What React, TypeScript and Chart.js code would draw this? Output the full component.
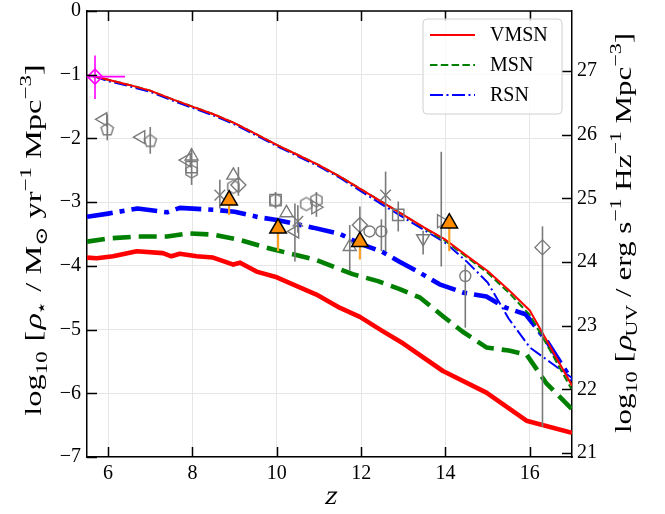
import React, { useEffect, useRef } from 'react';
import { Chart, registerables } from 'chart.js';
Chart.register(...registerables);

// ---------- data ----------
// upper (thin) model curves
const zTop = [5.65, 6, 6.5, 7, 7.5, 8, 8.5, 9, 9.5, 10, 10.5, 11, 11.5, 12, 12.5, 13, 13.5, 14, 14.5, 15, 15.5, 16, 16.5, 17];
const vmsnTop = [-1.02, -1.08, -1.16, -1.25, -1.38, -1.5, -1.62, -1.76, -1.93, -2.1, -2.26, -2.42, -2.6, -2.8, -3.0, -3.2, -3.4, -3.59, -3.84, -4.08, -4.38, -4.7, -5.29, -5.88];
const msnTop = [-1.02, -1.08, -1.16, -1.25, -1.38, -1.5, -1.62, -1.76, -1.93, -2.1, -2.26, -2.42, -2.6, -2.8, -3.0, -3.2, -3.41, -3.61, -3.86, -4.11, -4.42, -4.77, -5.35, -5.95];
const rsnTop = [-1.02, -1.1, -1.18, -1.27, -1.4, -1.52, -1.64, -1.78, -1.95, -2.12, -2.28, -2.44, -2.62, -2.83, -3.04, -3.24, -3.44, -3.64, -3.93, -4.26, -4.83, -5.28, -5.52, -5.76];
// lower (thick) model curves
const vmsnZ = [5.5, 5.73, 6.12, 6.68, 7.3, 7.5, 7.7, 8.1, 8.49, 8.97, 9.13, 9.52, 10.0, 10.38, 10.94, 11.5, 11.97, 12.5, 13, 13.94, 14.97, 15.92, 17];
const vmsnBot = [-3.87, -3.88, -3.85, -3.77, -3.8, -3.85, -3.81, -3.85, -3.87, -3.98, -3.95, -4.09, -4.18, -4.29, -4.45, -4.66, -4.8, -5.02, -5.22, -5.65, -5.99, -6.43, -6.62];
const msnZ = [5.5, 6, 6.7, 7.4, 7.9, 8.5, 9.1, 9.9, 10.9, 11.8, 12.4, 12.9, 13.4, 13.94, 14.4, 14.97, 15.5, 15.92, 16.4, 17];
const msnBot = [-3.62, -3.57, -3.54, -3.54, -3.49, -3.51, -3.59, -3.74, -3.9, -4.13, -4.24, -4.36, -4.5, -4.79, -5.03, -5.28, -5.33, -5.39, -5.85, -6.25];
const rsnZ = [5.5, 6, 6.7, 7.4, 7.7, 8.5, 9.0, 9.6, 10.0, 10.86, 11.5, 12.0, 12.5, 12.9, 13.4, 13.86, 14.42, 14.97, 15.4, 15.9, 16.4, 17];
const rsnBot = [-3.23, -3.18, -3.1, -3.16, -3.09, -3.12, -3.15, -3.24, -3.28, -3.4, -3.5, -3.66, -3.78, -3.93, -4.11, -4.29, -4.42, -4.48, -4.65, -4.76, -5.18, -5.8];

// observational points (gray)
const obsZ = [5.88, 5.98, 6.78, 7.0, 7.86, 7.98, 7.98, 7.98, 8.65, 8.97, 8.97, 9.09, 9.97, 9.97, 10.23, 10.43, 10.5, 10.7, 10.94, 10.92, 11.73, 11.97, 12.2, 12.48, 12.58, 12.88, 13.47, 13.9, 14.47, 16.3];
const obsY = [-1.7, -1.86, -1.98, -2.04, -2.34, -2.28, -2.45, -2.52, -2.89, -2.58, -2.76, -2.73, -2.97, -2.97, -3.17, -3.46, -3.3, -3.03, -2.97, -3.08, -3.7, -3.36, -3.46, -3.46, -2.89, -3.2, -3.57, -3.3, -4.16, -3.71];
const obsShape = ['triL', 'pent', 'triL', 'pent', 'triL', 'tri', 'sq', 'hex', 'x', 'tri', 'hex', 'dia', 'sq', 'hex', 'tri', 'triL', 'x', 'hex', 'hex', 'triR', 'tri', 'dia', 'circ', 'circ', 'x', 'sq', 'triD', 'triR', 'circ', 'dia'];
const obsLo = [null, -2.03, null, -2.24, null, -2.73, null, null, -3.1, null, null, -2.9, -3.1, null, null, -3.93, -3.48, null, -3.23, null, -4.08, -3.57, null, -3.77, -3.77, -3.46, -3.82, -4.01, -4.97, -6.53];
const obsHi = [null, -1.62, null, -1.82, null, -2.16, null, null, -2.65, null, null, -2.45, -2.84, null, null, -3.02, -3.05, null, -2.84, null, -3.36, -3.07, null, -3.27, -2.52, -2.99, -3.45, -2.21, -3.98, -3.38];

// lower limits (orange)
const limZ = [8.87, 10.03, 11.97, 14.09];
const limY = [-2.97, -3.41, -3.62, -3.33];
const limLo = [-3.2, -3.77, -3.9, -3.77];

// magenta point
const magZ = [5.69];
const magY = [-1.03];
const magXLo = [5.45];
const magXHi = [6.4];
const magYLo = [-1.38];
const magYHi = [-0.7];

const xTicks = [6, 8, 10, 12, 14, 16];
const yTicks = [-7, -6, -5, -4, -3, -2, -1, 0];
const y2Ticks = [21, 22, 23, 24, 25, 26, 27];
const UV_OFFSET = 27.94;
const legendLabels = ['VMSN', 'MSN', 'RSN'];

// ---------- styles ----------
const GRAY = '#7a7a7a';
const RED = '#ff0000';
const GREEN = '#008000';
const BLUE = '#0000ff';
const FONT = '"Liberation Serif", "DejaVu Serif", serif';

const thinDash: Record<string, number[]> = { VMSN: [], MSN: [7.5, 3.3], RSN: [13, 3.5, 2, 3.5] };
const thickDash: Record<string, number[]> = { VMSN: [], MSN: [18, 8], RSN: [26, 7, 5, 7] };
const colorOf: Record<string, string> = { VMSN: RED, MSN: GREEN, RSN: BLUE };

type Seg = [string, string];

function drawRich(ctx: CanvasRenderingContext2D, segs: Seg[], cx: number, cy: number, size: number, targetLen: number) {
  const fontFor = (k: string) => {
    const small = k.startsWith('sub') || k.startsWith('sup');
    return `${small ? Math.round(size * 0.7) : size}px ${FONT}`;
  };
  const widths: number[] = [];
  let total = 0;
  for (const [t, k] of segs) {
    let w: number;
    if (k === 'gap') w = parseFloat(t) * size;
    else {
      ctx.font = fontFor(k);
      w = ctx.measureText(t).width;
    }
    widths.push(w);
    total += w;
  }
  ctx.save();
  ctx.translate(cx, cy);
  ctx.rotate(-Math.PI / 2);
  const sc = targetLen ? Math.min(1.35, targetLen / total) : 1;
  ctx.scale(sc, 1);
  ctx.fillStyle = '#000';
  ctx.textBaseline = 'alphabetic';
  ctx.textAlign = 'left';
  let x = -total / 2;
  segs.forEach(([t, k], i) => {
    if (k !== 'gap') {
      ctx.font = fontFor(k);
      const dy = k.startsWith('sub') ? size * 0.25 : k.startsWith('sup') ? -size * 0.4 : 0;
      if (k === 'i') {
        ctx.save();
        ctx.translate(x, dy);
        ctx.transform(1, 0, -0.22, 1, 0, 0);
        ctx.fillText(t, 0, 0);
        ctx.restore();
      } else {
        ctx.fillText(t, x, dy);
      }
    }
    x += widths[i];
  });
  ctx.restore();
}

function polyCanvas(n: number, r: number, color: string, lw: number) {
  const c = document.createElement('canvas');
  const s = Math.ceil(2 * r + 4);
  c.width = s;
  c.height = s;
  const g = c.getContext('2d')!;
  g.strokeStyle = color;
  g.lineWidth = lw;
  g.beginPath();
  for (let i = 0; i < n; i++) {
    const a = -Math.PI / 2 + (i * 2 * Math.PI) / n;
    const x = s / 2 + r * Math.cos(a);
    const y = s / 2 + r * Math.sin(a);
    if (i === 0) g.moveTo(x, y);
    else g.lineTo(x, y);
  }
  g.closePath();
  g.stroke();
  return c;
}

export default function App() {
  const ref = useRef<HTMLCanvasElement>(null);

  useEffect(() => {
    const canvas = ref.current!;
    const pent = polyCanvas(5, 6.5, GRAY, 1.4);
    const hex = polyCanvas(6, 6.5, GRAY, 1.4);
    const styleOf = (s: string): any => {
      switch (s) {
        case 'tri': return 'triangle';
        case 'triL': return 'triangle';
        case 'triR': return 'triangle';
        case 'triD': return 'triangle';
        case 'sq': return 'rect';
        case 'dia': return 'rectRot';
        case 'circ': return 'circle';
        case 'x': return 'crossRot';
        case 'pent': return pent;
        case 'hex': return hex;
      }
      return 'circle';
    };
    const rotOf = (s: string) => (s === 'triL' ? -90 : s === 'triR' ? 90 : s === 'triD' ? 180 : 0);
    const radOf = (s: string) => (s === 'circ' ? 5.5 : s === 'sq' ? 8 : 7.5);

    const mk = (zs: number[], ys: number[]) => zs.map((z, i) => ({ x: z, y: ys[i] }));

    const lineDs = (label: string, zs: number[], ys: number[], thick: boolean) => ({
      label,
      data: mk(zs, ys),
      showLine: true,
      borderColor: colorOf[label],
      backgroundColor: colorOf[label],
      borderWidth: thick ? 4.6 : 2,
      borderDash: thick ? thickDash[label] : thinDash[label],
      borderCapStyle: 'butt',
      borderJoinStyle: 'round',
      pointRadius: 0,
      pointHoverRadius: 0,
      tension: 0,
      clip: 0,
    });

    const datasets: any[] = [
      {
        label: 'lim',
        data: mk(limZ, limY),
        pointStyle: 'triangle',
        pointRadius: 9.5,
        pointBackgroundColor: '#ff8c00',
        pointBorderColor: '#000',
        pointBorderWidth: 1.5,
        clip: false,
      },
      {
        label: 'mag',
        data: mk(magZ, magY),
        pointStyle: 'rectRot',
        pointRadius: 7.5,
        pointBackgroundColor: 'rgba(0,0,0,0)',
        pointBorderColor: '#ff00ff',
        pointBorderWidth: 1.5,
        clip: false,
      },
      {
        label: 'obs',
        data: mk(obsZ, obsY),
        pointStyle: obsShape.map(styleOf),
        pointRotation: obsShape.map(rotOf),
        pointRadius: obsShape.map(radOf),
        pointBackgroundColor: 'rgba(0,0,0,0)',
        pointBorderColor: GRAY,
        pointBorderWidth: 1.4,
        clip: false,
      },
      lineDs('VMSN', zTop, vmsnTop, false),
      lineDs('MSN', zTop, msnTop, false),
      lineDs('RSN', zTop, rsnTop, false),
      lineDs('VMSN', vmsnZ, vmsnBot, true),
      lineDs('MSN', msnZ, msnBot, true),
      lineDs('RSN', rsnZ, rsnBot, true),
    ];

    const overlay = {
      id: 'overlay',
      beforeDatasetDraw(chart: any, args: any) {
        if (args.index !== 2) return;
        const ctx: CanvasRenderingContext2D = chart.ctx;
        const xs = chart.scales.x;
        const ys = chart.scales.y;
        const a = chart.chartArea;
        ctx.save();
        ctx.beginPath();
        ctx.rect(a.left, a.top, a.right - a.left, a.bottom - a.top);
        ctx.clip();
        ctx.lineCap = 'butt';
        ctx.strokeStyle = GRAY;
        ctx.lineWidth = 1.6;
        obsZ.forEach((z, i) => {
          const lo = obsLo[i];
          const hi = obsHi[i];
          if (lo === null || hi === null) return;
          const px = xs.getPixelForValue(z);
          ctx.beginPath();
          ctx.moveTo(px, ys.getPixelForValue(lo));
          ctx.lineTo(px, ys.getPixelForValue(hi));
          ctx.stroke();
        });
        ctx.strokeStyle = '#ffa020';
        ctx.lineWidth = 2.2;
        limZ.forEach((z, i) => {
          const px = xs.getPixelForValue(z);
          ctx.beginPath();
          ctx.moveTo(px, ys.getPixelForValue(limY[i]));
          ctx.lineTo(px, ys.getPixelForValue(limLo[i]));
          ctx.stroke();
        });
        ctx.strokeStyle = '#ff00ff';
        ctx.lineWidth = 1.6;
        magZ.forEach((z, i) => {
          const px = xs.getPixelForValue(z);
          const py = ys.getPixelForValue(magY[i]);
          ctx.beginPath();
          ctx.moveTo(px, ys.getPixelForValue(magYLo[i]));
          ctx.lineTo(px, ys.getPixelForValue(magYHi[i]));
          ctx.moveTo(xs.getPixelForValue(magXLo[i]), py);
          ctx.lineTo(xs.getPixelForValue(magXHi[i]), py);
          ctx.stroke();
        });
        ctx.restore();
      },
      afterDraw(chart: any) {
        const ctx: CanvasRenderingContext2D = chart.ctx;
        const xs = chart.scales.x;
        const ys = chart.scales.y;
        const y2 = chart.scales.y2;
        const a = chart.chartArea;
        const TL = 10;
        ctx.save();
        ctx.strokeStyle = '#000';
        ctx.lineWidth = 1.5;
        ctx.beginPath();
        xTicks.forEach((v) => {
          const px = Math.round(xs.getPixelForValue(v)) + 0.5;
          ctx.moveTo(px, a.bottom);
          ctx.lineTo(px, a.bottom - TL);
          ctx.moveTo(px, a.top);
          ctx.lineTo(px, a.top + TL);
        });
        yTicks.forEach((v) => {
          const py = Math.round(ys.getPixelForValue(v)) + 0.5;
          ctx.moveTo(a.left, py);
          ctx.lineTo(a.left + TL, py);
        });
        y2Ticks.forEach((v) => {
          const py = Math.round(y2.getPixelForValue(v)) + 0.5;
          ctx.moveTo(a.right, py);
          ctx.lineTo(a.right - TL, py);
        });
        ctx.stroke();
        ctx.beginPath();
        ctx.moveTo(a.left, a.top);
        ctx.lineTo(a.right, a.top);
        ctx.stroke();

        // legend
        const bx = 423, by = 19, bw = 139, bh = 95, br = 4;
        ctx.beginPath();
        ctx.moveTo(bx + br, by);
        ctx.arcTo(bx + bw, by, bx + bw, by + bh, br);
        ctx.arcTo(bx + bw, by + bh, bx, by + bh, br);
        ctx.arcTo(bx, by + bh, bx, by, br);
        ctx.arcTo(bx, by, bx + bw, by, br);
        ctx.closePath();
        ctx.fillStyle = 'rgba(255,255,255,0.8)';
        ctx.fill();
        ctx.strokeStyle = '#d0d0d0';
        ctx.lineWidth = 1;
        ctx.stroke();
        legendLabels.forEach((lab, i) => {
          const ly = 35 + i * 30;
          ctx.beginPath();
          ctx.strokeStyle = colorOf[lab];
          ctx.lineWidth = 2;
          ctx.setLineDash(thinDash[lab]);
          ctx.moveTo(430, ly);
          ctx.lineTo(475, ly);
          ctx.stroke();
          ctx.setLineDash([]);
          ctx.fillStyle = '#000';
          ctx.font = `20px ${FONT}`;
          ctx.textBaseline = 'middle';
          ctx.textAlign = 'left';
          ctx.fillText(lab, 490, ly + 1);
        });

        // axis titles
        drawRich(ctx, [
          ['log', 'n'], ['10', 'sub'], ['0.3', 'gap'], ['[', 'n'], ['ρ', 'i'], ['⋆', 'sub'], ['0.25', 'gap'], ['/', 'n'], ['0.25', 'gap'],
          ['M', 'n'], ['⊙', 'sub'], ['0.25', 'gap'], ['yr', 'n'], ['−1', 'sup'], ['0.25', 'gap'], ['Mpc', 'n'], ['−3', 'sup'], [']', 'n'],
        ], 41, 240, 24, 362);
        drawRich(ctx, [
          ['log', 'n'], ['10', 'sub'], ['0.3', 'gap'], ['[', 'n'], ['ρ', 'i'], ['UV', 'sub'], ['0.25', 'gap'], ['/', 'n'], ['0.25', 'gap'],
          ['erg', 'n'], ['0.25', 'gap'], ['s', 'n'], ['−1', 'sup'], ['0.25', 'gap'], ['Hz', 'n'], ['−1', 'sup'], ['0.25', 'gap'],
          ['Mpc', 'n'], ['−3', 'sup'], [']', 'n'],
        ], 631, 233, 24, 400);
        ctx.fillStyle = '#000';
        ctx.font = `27px ${FONT}`;
        ctx.textAlign = 'center';
        ctx.textBaseline = 'alphabetic';
        ctx.save();
        ctx.translate(330, 504);
        ctx.transform(1, 0, -0.25, 1, 0, 0);
        ctx.fillText('z', 0, 0);
        ctx.restore();
        ctx.restore();
      },
    };

    const tickFont = { family: FONT, size: 20 };
    const minus = (v: number) => (v < 0 ? '\u2212' + Math.abs(v) : String(v));

    const chart = new Chart(canvas, {
      type: 'scatter',
      data: { datasets },
      options: {
        animation: false,
        responsive: false,
        devicePixelRatio: 1,
        layout: { padding: { top: 8, left: 0, right: 0, bottom: 0 } },
        plugins: { legend: { display: false }, tooltip: { enabled: false } },
        events: [],
        scales: {
          x: {
            type: 'linear',
            min: 5.5,
            max: 17,
            afterBuildTicks: (s: any) => { s.ticks = xTicks.map((v) => ({ value: v })); },
            afterFit: (s: any) => { s.height = 57; s.paddingLeft = 0; s.paddingRight = 0; },
            ticks: { font: tickFont, color: '#000', padding: 5, maxRotation: 0, autoSkip: false, callback: (v: any) => minus(Number(v)) },
            grid: { color: '#e6e6e6', lineWidth: 1, drawTicks: false },
            border: { color: '#000', width: 1.5 },
          },
          y: {
            type: 'linear',
            position: 'left',
            min: -7,
            max: 0,
            afterBuildTicks: (s: any) => { s.ticks = yTicks.map((v) => ({ value: v })); },
            afterFit: (s: any) => { s.width = 87; s.paddingTop = 0; s.paddingBottom = 0; },
            ticks: { font: tickFont, color: '#000', padding: 6, autoSkip: false, callback: (v: any) => minus(Number(v)) },
            grid: { color: '#e6e6e6', lineWidth: 1, drawTicks: false },
            border: { color: '#000', width: 1.5 },
          },
          y2: {
            type: 'linear',
            position: 'right',
            min: -7 + UV_OFFSET,
            max: 0 + UV_OFFSET,
            afterBuildTicks: (s: any) => { s.ticks = y2Ticks.map((v) => ({ value: v })); },
            afterFit: (s: any) => { s.width = 93; s.paddingTop = 0; s.paddingBottom = 0; },
            ticks: { font: tickFont, color: '#000', padding: 5, autoSkip: false, callback: (v: any) => String(v) },
            grid: { display: false, drawTicks: false },
            border: { color: '#000', width: 1.5 },
          },
        },
      } as any,
      plugins: [overlay],
    });
    return () => chart.destroy();
  }, []);

  return (
    <div style={{ position: 'absolute', left: 0, top: 0, width: 665, height: 514, background: '#fff' }}>
      <canvas ref={ref} width={665} height={514} style={{ display: 'block', width: 665, height: 514 }} />
    </div>
  );
}
